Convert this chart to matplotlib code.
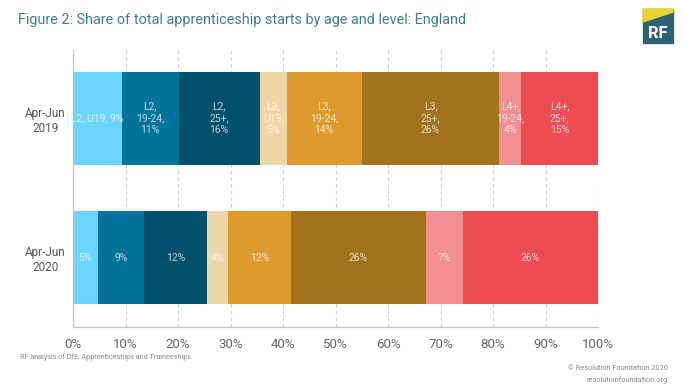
import numpy as np
import matplotlib
matplotlib.use('Agg')
import matplotlib.pyplot as plt
from matplotlib.patches import Polygon, Rectangle

# data (share of starts, %)
periods = ['Apr-Jun\n2020', 'Apr-Jun\n2019']
groups = ['L2, U19', 'L2, 19-24', 'L2, 25+', 'L3, U19', 'L3, 19-24',
          'L3, 25+', 'L4+, 19-24', 'L4+, 25+']
share_2019 = [9.3, 10.8, 15.5, 5.1, 14.3, 26.2, 4.2, 14.6]
share_2020 = [4.7, 8.9, 11.9, 4.1, 11.9, 25.8, 7.0, 25.7]
labels_2019 = ['L2, U19, 9%', 'L2,\n19-24,\n11%', 'L2,\n25+,\n16%', 'L3,\nU19,\n5%',
               'L3,\n19-24,\n14%', 'L3,\n25+,\n26%', 'L4+,\n19-24,\n4%', 'L4+,\n25+,\n15%']
labels_2020 = ['5%', '9%', '12%', '4%', '12%', '26%', '7%', '26%']
xticks = [0, 10, 20, 30, 40, 50, 60, 70, 80, 90, 100]

colors = ['#6dd4fb', '#04739b', '#00506e', '#efd6a6', '#dd9a2d',
          '#a2721c', '#f28f93', '#ef4b52']

plt.rcParams['font.family'] = ['Roboto', 'DejaVu Sans']

fig = plt.figure(figsize=(6.84, 3.85), dpi=100)
ax = fig.add_axes([73/684, 1-327/385, 525/684, 277/385])

rows = [share_2020, share_2019]
row_labels = [labels_2020, labels_2019]
for y, (vals, labs) in enumerate(zip(rows, row_labels)):
    left = 0
    for i, v in enumerate(vals):
        ax.barh(y, v, left=left, height=0.667, color=colors[i], zorder=3)
        ax.text(left + v/2, y, labs[i], ha='center', va='center', color='white',
                alpha=0.75, fontsize=7.5, linespacing=1.25, zorder=4)
        left += v

ax.set_xlim(0, 100)
ax.set_ylim(-0.495, 1.491)
ax.set_xticks(xticks)
ax.set_xticklabels([f'{t}%' for t in xticks])
ax.set_yticks([0, 1])
ax.set_yticklabels(periods, ha='center', multialignment='center')
ax.tick_params(axis='y', length=0, pad=20, labelsize=8.5, labelcolor='#555555')
ax.tick_params(axis='x', length=0, pad=8, labelsize=9.5, labelcolor='#666666')
for t in xticks[1:]:
    ax.axvline(t, color='#cccccc', lw=0.8, ls=(0, (3, 3)), zorder=1)
for s in ['top', 'right']:
    ax.spines[s].set_visible(False)
for s in ['left', 'bottom']:
    ax.spines[s].set_color('#c4c4c4')
    ax.spines[s].set_linewidth(0.9)

fig.text(18/684, 1-20/385, 'Figure 2: Share of total apprenticeship starts by age and level: England',
         color='#3e7d8e', fontsize=10.4, va='center', ha='left')
fig.text(20/684, 1-357/385, 'RF analysis of DfE, Apprenticeships and Traineeships',
         color='#888888', fontsize=5.2, va='center', ha='left')
fig.text(668/684, 1-369/385, '\u00a9 Resolution Foundation 2020',
         color='#888888', fontsize=5.3, va='center', ha='right')
fig.text(668/684, 1-380/385, 'resolutionfoundation.org',
         color='#888888', fontsize=5.3, va='center', ha='right')

# RF logo
x0, x1 = 643/684, 673/684
y0, y1 = 1-43/385, 1-9/385
fig.patches.append(Rectangle((x0, y0), x1-x0, y1-y0, transform=fig.transFigure,
                             color='#2f6174', zorder=5))
fig.patches.append(Polygon([(x0, y1), (x1, y1), (x1, 1-12/385), (x0, 1-22/385)],
                           closed=True, transform=fig.transFigure, color='#e4d535', zorder=6))
fig.text((x0+x1)/2, 1-33/385, 'RF', color='white', fontsize=12, fontweight='bold',
         ha='center', va='center', zorder=7)

fig.savefig('out.png', dpi=100, facecolor='white')
